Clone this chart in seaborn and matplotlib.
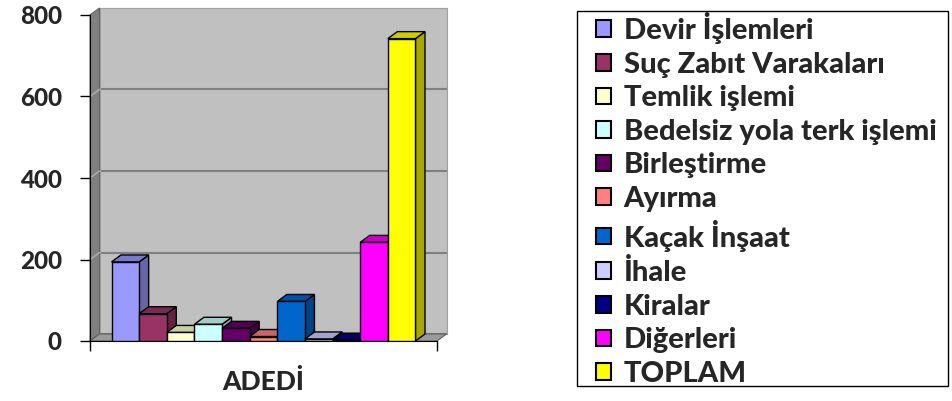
import numpy as np
import pandas as pd
import matplotlib
matplotlib.use("Agg")
import matplotlib.pyplot as plt
import seaborn as sns
from matplotlib.patches import Polygon, Rectangle
from matplotlib.lines import Line2D
from matplotlib.colors import to_rgb

# VERİLER
kategoriler = ["Devir İşlemleri", "Suç Zabıt Varakaları", "Temlik işlemi",
               "Bedelsiz yola terk işlemi", "Birleştirme", "Ayırma",
               "Kaçak İnşaat", "İhale", "Kiralar", "Diğerleri", "TOPLAM"]
adet = [194, 67, 21, 41, 31, 11, 97, 5, 2, 242, 742]
grup = "ADEDİ"
renkler = ["#9999FF", "#993366", "#FFFFCC", "#CCFFFF", "#660066", "#FF8080",
           "#0066CC", "#CCCCFF", "#000080", "#FF00FF", "#FFFF00"]
y_ticks = [0, 200, 400, 600, 800]

df = pd.DataFrame({"grup": [grup] * len(kategoriler),
                   "kategori": kategoriler, "adet": adet})

sns.set_style("white")
plt.rcParams["font.family"] = ["Lato", "DejaVu Sans"]
plt.rcParams["font.weight"] = "black"
AGIR = "black"

W, H = 952, 401
fig = plt.figure(figsize=(W / 100, H / 100), dpi=100)


def fx(px):
    return px / W


def fy(py):
    return 1 - py / H


# piksel ölçüleri (ön düzlem ve arka duvar)
L, R, B, T = 90, 437, 341, 15
DX, DY = 9.5, 7

# arka duvar
wall = fig.add_axes([fx(L + DX), fy(B - DY), fx(R - L), (B - T) / H], zorder=-3)
wall.set_facecolor("#C0C0C0")
wall.set_xlim(0, 1)
wall.set_ylim(0, 800)
wall.set_xticks([])
wall.set_yticks(y_ticks)
wall.tick_params(left=False, labelleft=False)
wall.grid(axis="y", color="#808080", linewidth=1.5)
for s in wall.spines.values():
    s.set_color("#A0A0A0")

# sol yan duvar ve zemin
fig.patches.append(Polygon([(fx(L), fy(B)), (fx(L + DX), fy(B - DY)),
                            (fx(L + DX), fy(T - DY)), (fx(L), fy(T))],
                           closed=True, transform=fig.transFigure, zorder=-2,
                           facecolor="#808080", edgecolor="#606060", lw=0.8))
fig.patches.append(Polygon([(fx(L), fy(B)), (fx(R), fy(B)),
                            (fx(R + DX), fy(B - DY)), (fx(L + DX), fy(B - DY))],
                           closed=True, transform=fig.transFigure, zorder=-2,
                           facecolor="#9A9A9A", edgecolor="#606060", lw=0.8))

# yan duvar üzerindeki ızgara çizgileri
for v in y_ticks[1:-1]:
    yp = B - (B - T) * v / 800
    fig.lines.append(Line2D([fx(L), fx(L + DX)], [fy(yp), fy(yp - DY)], zorder=-1,
                            transform=fig.transFigure, color="#A8A8A8", lw=1.2))

ax = fig.add_axes([fx(L), fy(B), fx(R - L), (B - T) / H], zorder=2)
ax.patch.set_visible(False)

sns.barplot(data=df, x="grup", y="adet", hue="kategori", palette=renkler,
            width=0.876, edgecolor="black", linewidth=1, ax=ax, saturation=1,
            legend=True, errorbar=None)
ax.set_ylim(0, 800)
ax.set_xlim(-0.5, 0.5)
ax.set_yticks(y_ticks)
ax.set_xlabel("")
ax.set_ylabel("")

# 3B yan ve üst yüzler
fig.canvas.draw()
inv = ax.transData.inverted()
x0d, y0d = inv.transform((0, 0))
x1d, y1d = inv.transform((DX, DY))
ddx, ddy = x1d - x0d, y1d - y0d

bars = [c.patches[0] for c in ax.containers]
for i, (p, col) in enumerate(zip(bars, renkler)):
    x, w, h = p.get_x(), p.get_width(), p.get_height()
    rgb = np.array(to_rgb(col))
    side = Polygon([(x + w, 0), (x + w + ddx, ddy), (x + w + ddx, h + ddy), (x + w, h)],
                   closed=True, facecolor=rgb * 0.66, edgecolor="black", lw=1,
                   zorder=3 + 2 * i)
    top = Polygon([(x, h), (x + ddx, h + ddy), (x + w + ddx, h + ddy), (x + w, h)],
                  closed=True, facecolor=rgb * 0.8, edgecolor="black", lw=1,
                  zorder=3 + 2 * i)
    ax.add_patch(side)
    ax.add_patch(top)
    p.set_zorder(4 + 2 * i)

# eksenler
sns.despine(ax=ax, top=True, right=True)
ax.spines["left"].set_color("black")
ax.spines["bottom"].set_color("black")
ax.spines["left"].set_zorder(50)
ax.tick_params(axis="y", direction="out", length=7.2, width=1, color="black",
               labelsize=17.5, pad=13, left=True)
ax.set_xticks([0])
ax.set_xticklabels([grup])
ax.set_xticks([-0.5, 0.5], minor=True)
ax.tick_params(axis="x", which="major", length=0, labelsize=19, pad=20)
ax.tick_params(axis="x", which="minor", direction="out", length=7.2, width=1,
               color="black", bottom=True)
for lab in ax.get_yticklabels() + ax.get_xticklabels():
    lab.set_fontweight(AGIR)

# lejant
fig.patches.append(Rectangle((fx(577), fy(386)), fx(948 - 577), (386 - 11) / H,
                             transform=fig.transFigure, facecolor="white",
                             edgecolor="black", lw=1, zorder=1))
handles, labels = ax.get_legend_handles_labels()
ax.get_legend().remove()
leg = fig.legend(handles, labels, loc="upper left",
                 bbox_to_anchor=(fx(596), fy(12)), frameon=False, borderaxespad=0,
                 prop={"family": ["Lato", "DejaVu Sans"], "weight": AGIR, "size": 21},
                 handlelength=0.5, handleheight=0.5, handletextpad=0.45,
                 labelspacing=0.26, borderpad=0)
leg.set_zorder(5)
for hnd in leg.legend_handles:
    hnd.set_edgecolor("black")
    hnd.set_linewidth(1.5)

fig.savefig("out.png", dpi=100)
